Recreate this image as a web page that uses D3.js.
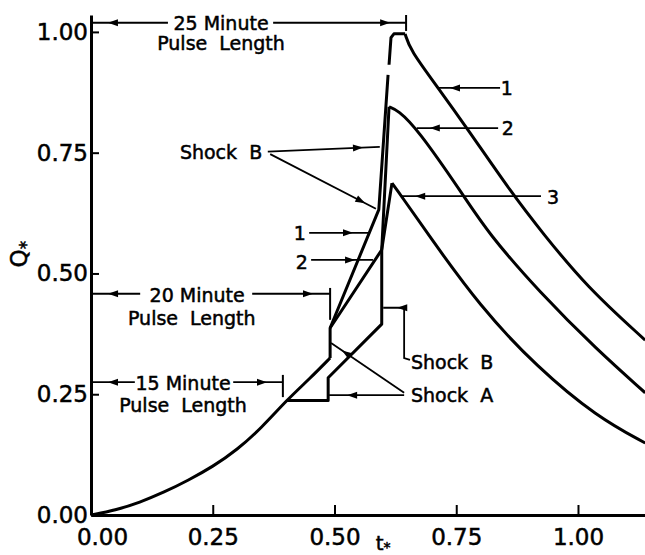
<!DOCTYPE html>
<html>
<head>
<meta charset="utf-8">
<script src="https://cdn.jsdelivr.net/npm/d3@7"></script>
<style>
  body { margin: 0; background: #fff; }
  svg text { font-family: "DejaVu Sans", sans-serif; fill: #000; stroke: #000; stroke-width: 0.5px; white-space: pre; }
</style>
</head>
<body>
<div id="chart"></div>
<script>
// Values: t* on x, Q* on y
const xTicks = [0, 0.25, 0.5, 0.75, 1.0];
const yTicks = [0, 0.25, 0.5, 0.75, 1.0];

// rise shared by all three curves until the 15 minute pulse ends
const commonRise = [[0, 0], [0.05, 0.010], [0.10, 0.026], [0.15, 0.047], [0.20, 0.072],
  [0.25, 0.100], [0.30, 0.135], [0.35, 0.180], [0.402, 0.238]];
// curves 1 and 2 keep rising until the 20 minute pulse ends
const commonRise12 = [[0.402, 0.238], [0.45, 0.283], [0.491, 0.325]];

// shock sections (straight segments)
const curve1Shocks = [[0.491, 0.325], [0.491, 0.387], [0.591, 0.632], [0.610, 0.911], null,
  [0.612, 0.932], [0.616, 0.988], [0.622, 0.996], [0.645, 0.996]];
const curve2Shocks = [[0.491, 0.387], [0.597, 0.549], [0.612, 0.845]];
const curve3Shocks = [[0.402, 0.237], [0.487, 0.237], [0.487, 0.284], [0.597, 0.395],
  [0.597, 0.549], [0.618, 0.687]];

// decay after the peaks
const curve1Fall = [[0.645, 0.996], [0.655, 0.963], [0.713, 0.884], [0.772, 0.801],
  [0.867, 0.662], [0.924, 0.588], [1.018, 0.472], [1.138, 0.362]];
const curve2Fall = [[0.612, 0.845], [0.63, 0.838], [0.669, 0.801], [0.764, 0.663],
  [0.815, 0.584], [0.922, 0.460], [1.039, 0.342], [1.138, 0.253]];
const curve3Fall = [[0.618, 0.687], [0.639, 0.658], [0.690, 0.584], [0.799, 0.431],
  [0.916, 0.306], [1.039, 0.203], [1.138, 0.149]];

const width = 645;
const height = 555;

const svg = d3.select("#chart")
  .append("svg")
  .attr("width", width)
  .attr("height", height);

const x = d3.scaleLinear().domain([0, 1.1376]).range([91, 645]);
const y = d3.scaleLinear().domain([0, 1.035]).range([515, 15]);

// Axes
const yAxis = svg.append("g")
  .attr("transform", `translate(${x(0)},0)`)
  .call(d3.axisLeft(y).tickValues(yTicks).tickFormat(d3.format(".2f"))
    .tickSize(-8).tickSizeOuter(0).tickPadding(3));

const xAxis = svg.append("g")
  .attr("transform", `translate(0,${y(0)})`)
  .call(d3.axisBottom(x).tickValues(xTicks).tickFormat(d3.format(".2f"))
    .tickSize(-10).tickSizeOuter(0).tickPadding(14));

svg.selectAll(".domain").attr("stroke", "#000").attr("stroke-width", 3);
svg.selectAll(".tick line").attr("stroke", "#000").attr("stroke-width", 2);
svg.selectAll(".tick text").style("font-size", "23px").attr("fill", "#000");
xAxis.selectAll(".tick text").filter(d => d === 0).attr("dx", 11);

// Curves
const straight = d3.line()
  .defined(d => d !== null)
  .x(d => x(d[0]))
  .y(d => y(d[1]));

const smooth = d3.line()
  .x(d => x(d[0]))
  .y(d => y(d[1]))
  .curve(d3.curveBasis);

const curves = svg.append("g")
  .attr("fill", "none")
  .attr("stroke", "#000")
  .attr("stroke-width", 3)
  .attr("stroke-linejoin", "round");

[commonRise.concat(commonRise12.slice(1)), curve1Fall, curve2Fall, curve3Fall].forEach(s => {
  curves.append("path").attr("d", smooth(s));
});
[curve1Shocks, curve2Shocks, curve3Shocks].forEach(s => {
  curves.append("path").attr("d", straight(s));
});

// Annotations (positions in data units)
const notes = svg.append("g");

function arrow(pts, frac) {
  notes.append("path")
    .attr("d", straight(pts))
    .attr("fill", "none")
    .attr("stroke", "#000")
    .attr("stroke-width", 1.8);
  const a = pts[pts.length - 2], b = pts[pts.length - 1];
  const x0 = x(a[0]), y0 = y(a[1]), x1 = x(b[0]), y1 = y(b[1]);
  const hx = x0 + (x1 - x0) * frac, hy = y0 + (y1 - y0) * frac;
  const ang = Math.atan2(y1 - y0, x1 - x0) * 180 / Math.PI;
  notes.append("path")
    .attr("d", "M0,0L-10,-3.5L-10,3.5Z")
    .attr("transform", `translate(${hx},${hy}) rotate(${ang})`)
    .attr("fill", "#000");
}

function bar(t, q0, q1) {
  notes.append("line")
    .attr("x1", x(t)).attr("x2", x(t))
    .attr("y1", y(q0)).attr("y2", y(q1))
    .attr("stroke", "#000").attr("stroke-width", 2);
}

function label(t, q, str, anchor) {
  notes.append("text")
    .attr("x", x(t)).attr("y", y(q))
    .attr("dy", "0.36em")
    .attr("text-anchor", anchor || "middle")
    .style("font-size", "19px")
    .text(str);
}

// 25 minute pulse
arrow([[0.158, 1.019], [0.004, 1.019]], 0.8);
arrow([[0.374, 1.019], [0.647, 1.019]], 0.88);
bar(0.647, 1.035, 1.002);
label(0.267, 1.019, "25 Minute");
label(0.267, 0.977, "Pulse  Length");

// 20 minute pulse
arrow([[0.101, 0.458], [0.004, 0.458]], 0.68);
arrow([[0.331, 0.458], [0.491, 0.458]], 0.78);
bar(0.491, 0.470, 0.404);
label(0.218, 0.455, "20 Minute");
label(0.207, 0.408, "Pulse  Length");

// 15 minute pulse
arrow([[0.090, 0.275], [0.004, 0.275]], 0.64);
arrow([[0.292, 0.275], [0.394, 0.275]], 0.68);
bar(0.394, 0.290, 0.244);
label(0.189, 0.273, "15 Minute");
label(0.189, 0.228, "Pulse  Length");

// Shock B (upper)
arrow([[0.363, 0.752], [0.593, 0.762]], 0.85);
arrow([[0.368, 0.747], [0.585, 0.634]], 0.9);
label(0.267, 0.752, "Shock  B");

// curve numbers, left of the shocks
arrow([[0.448, 0.584], [0.573, 0.584]], 0.72);
arrow([[0.452, 0.528], [0.579, 0.528]], 0.71);
label(0.429, 0.584, "1");
label(0.433, 0.524, "2");

// curve numbers, on the decays
arrow([[0.840, 0.884], [0.713, 0.884]], 0.81);
arrow([[0.836, 0.801], [0.669, 0.801]], 0.84);
arrow([[0.924, 0.660], [0.637, 0.660]], 0.9);
label(0.854, 0.884, "1");
label(0.856, 0.801, "2");
label(0.949, 0.658, "3");

// Shock B (lower) and Shock A
arrow([[0.655, 0.321], [0.643, 0.325], [0.643, 0.429], [0.600, 0.429]], 0.33);
arrow([[0.643, 0.248], [0.489, 0.248]], 0.76);
arrow([[0.643, 0.253], [0.493, 0.356]], 0.85);
label(0.657, 0.317, "Shock  B", "start");
label(0.657, 0.248, "Shock  A", "start");

// Axis titles
const qTitle = svg.append("text")
  .attr("transform", `translate(27,${y(0.54)}) rotate(-90)`)
  .attr("text-anchor", "middle")
  .style("font-size", "23px");
qTitle.append("tspan").text("Q");
qTitle.append("tspan").attr("dy", "0.3em").style("font-size", "17px").text("*");

const tTitle = svg.append("text")
  .attr("x", x(0.6)).attr("y", 550)
  .attr("text-anchor", "middle")
  .style("font-size", "20px");
tTitle.append("tspan").text("t");
tTitle.append("tspan").attr("dy", "0.15em").style("font-size", "14px").text("*");
</script>
</body>
</html>
